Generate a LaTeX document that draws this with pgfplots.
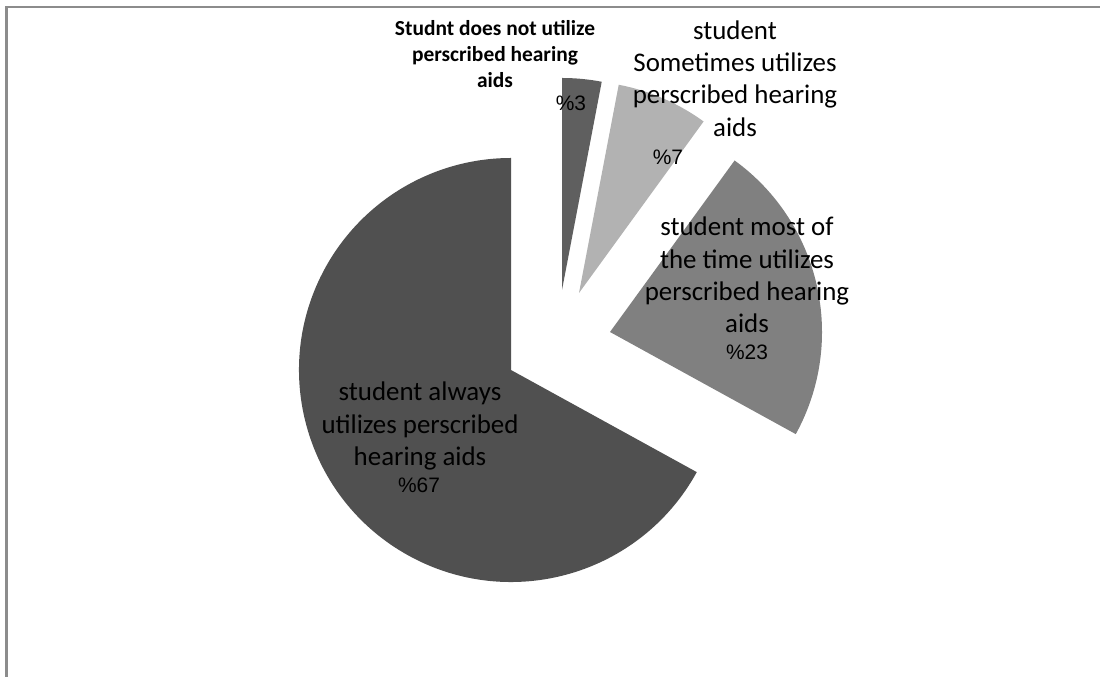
\documentclass[border=0pt]{standalone}
\usepackage{fontspec}
\setmainfont{Carlito}
\newfontfamily\arialf{Liberation Sans}
\usepackage{pgfplots}
\pgfplotsset{compat=1.18}
\definecolor{sA}{HTML}{5F5F5F}
\definecolor{sB}{HTML}{B2B2B2}
\definecolor{sC}{HTML}{808080}
\definecolor{sD}{HTML}{505050}
\definecolor{frm}{HTML}{8C8C8C}
% slice values (percent)
\def\vA{3}\def\vB{7}\def\vC{23}\def\vD{67}
\def\R{212bp}
\pgfmathsetmacro{\aA}{90}
\pgfmathsetmacro{\aB}{90-3.6*\vA}
\pgfmathsetmacro{\aC}{\aB-3.6*\vB}
\pgfmathsetmacro{\aD}{\aC-3.6*\vC}
\pgfmathsetmacro{\aE}{\aD-3.6*\vD}
\begin{document}
\begin{tikzpicture}
\begin{axis}[x=1bp,y=1bp,xmin=0,xmax=1100,ymin=0,ymax=677,hide axis,clip=true]
% frame
\draw[frm,line width=2.5bp] (axis cs:6.5,0) -- (axis cs:6.5,670) -- (axis cs:1100,670);
% slices (exploded apexes)
\fill[sD] (axis cs:511,307) -- ++(\aD:\R) arc[start angle=\aD,end angle=\aE,radius=\R] -- cycle;
\fill[sA] (axis cs:562,387) -- ++(\aA:\R) arc[start angle=\aA,end angle=\aB,radius=\R] -- cycle;
\fill[sB] (axis cs:579,384) -- ++(\aB:\R) arc[start angle=\aB,end angle=\aC,radius=\R] -- cycle;
\fill[sC] (axis cs:610,345) -- ++(\aC:\R) arc[start angle=\aC,end angle=\aD,radius=\R] -- cycle;
% labels
\node[align=center,inner sep=0pt,font=\bfseries\fontsize{21.5}{26.5}\selectfont] at (axis cs:495,623) {Studnt does not utilize\\perscribed hearing\\aids};
\node[align=center,inner sep=0pt,font=\fontsize{27}{32.5}\selectfont] at (axis cs:735,598.5) {student\\Sometimes utilizes\\perscribed hearing\\aids};
\node[align=center,inner sep=0pt,font=\fontsize{27}{32.5}\selectfont] at (axis cs:747,402) {student most of\\the time utilizes\\perscribed hearing\\aids};
\node[align=center,inner sep=0pt,font=\fontsize{27}{32.5}\selectfont] at (axis cs:420,251) {student always\\utilizes perscribed\\hearing aids};
% percentages
\node[inner sep=0pt,font=\arialf\fontsize{21}{24}\selectfont] at (axis cs:571,574) {\%\vA};
\node[inner sep=0pt,font=\arialf\fontsize{21}{24}\selectfont] at (axis cs:668,520) {\%\vB};
\node[inner sep=0pt,font=\arialf\fontsize{21}{24}\selectfont] at (axis cs:747,325) {\%\vC};
\node[inner sep=0pt,font=\arialf\fontsize{21}{24}\selectfont] at (axis cs:419,192) {\%\vD};
\end{axis}
\pgfresetboundingbox
\useasboundingbox (current axis.south west) rectangle (current axis.north east);
\end{tikzpicture}
\end{document}
